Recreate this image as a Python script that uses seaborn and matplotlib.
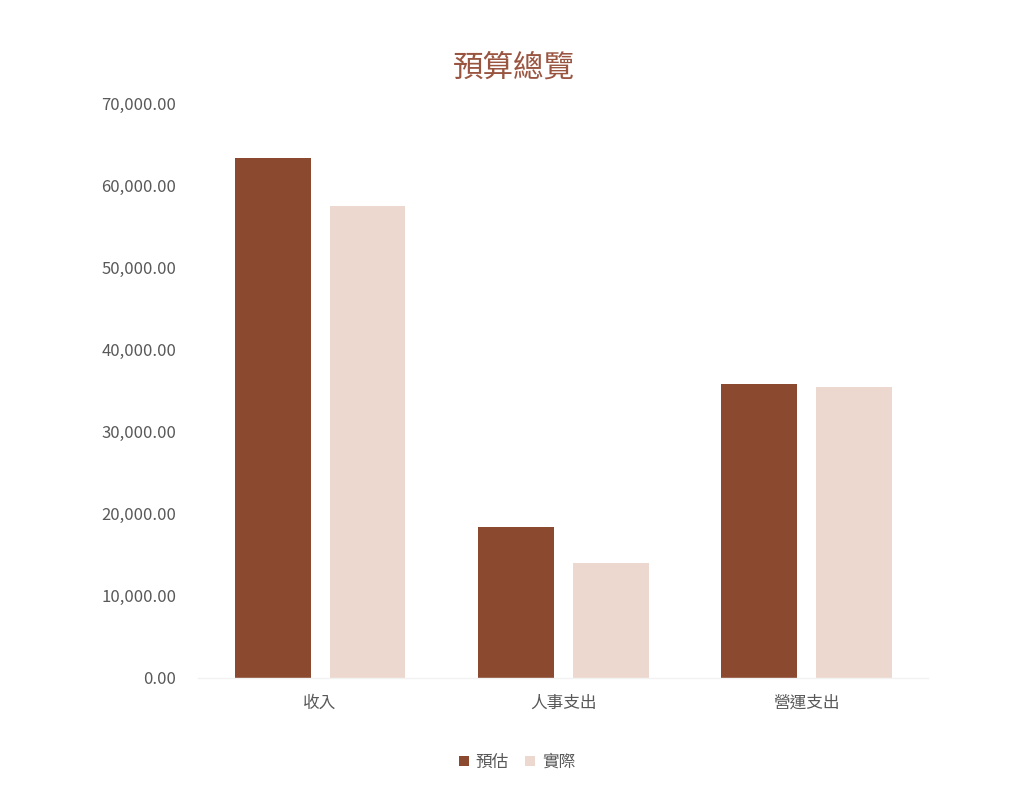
import pandas as pd
import matplotlib.pyplot as plt
import seaborn as sns
from matplotlib.ticker import FuncFormatter

categories = ['收入', '人事支出', '營運支出']
series = ['預估', '實際']
estimated = [63300, 18400, 35800]
actual = [57500, 14000, 35400]
y_ticks = [0, 10000, 20000, 30000, 40000, 50000, 60000, 70000]

colors = ['#8B4A30', '#EDD8CF']
text_color = '#595959'

data = pd.DataFrame({
    'category': categories * 2,
    'series': [series[0]] * 3 + [series[1]] * 3,
    'value': estimated + actual,
})

sns.set_style('white')
plt.rcParams['font.family'] = ['Noto Sans CJK TC', 'DejaVu Sans']

fig = plt.figure(figsize=(10.28, 8.0), dpi=100)
ax = fig.add_axes([0.193, 0.1525, 0.71, 0.7185])

sns.barplot(data=data, x='category', y='value', hue='series',
            palette=colors, width=0.78, gap=0.2, saturation=1,
            errorbar=None, linewidth=0, ax=ax)

ax.set_xlim(-0.5, 2.5)
ax.set_ylim(0, 70000)
ax.set_yticks(y_ticks)
ax.yaxis.set_major_formatter(FuncFormatter(lambda v, p: f'{v:,.2f}'))
ax.tick_params(axis='y', length=0, pad=16, labelsize=12, labelcolor=text_color)
ax.tick_params(axis='x', length=0, pad=12, labelsize=12, labelcolor=text_color)
ax.set_xlabel('')
ax.set_ylabel('')

for side in ['left', 'right', 'top']:
    ax.spines[side].set_visible(False)
ax.spines['bottom'].set_color('#F2F2F2')
ax.spines['bottom'].set_linewidth(1)

fig.text(0.5, 0.915, '預算總覽', ha='center', va='center',
         fontsize=22, color='#9A5541', fontweight='medium')

handles, labels = ax.get_legend_handles_labels()
ax.get_legend().remove()
leg = fig.legend(handles, labels, loc='center', bbox_to_anchor=(0.503, 0.047),
                 ncol=2, frameon=False, fontsize=12, handlelength=0.6,
                 handleheight=0.6, handletextpad=0.4, columnspacing=1.0)
for t in leg.get_texts():
    t.set_color(text_color)

fig.savefig('out.png', dpi=100, facecolor='white')
